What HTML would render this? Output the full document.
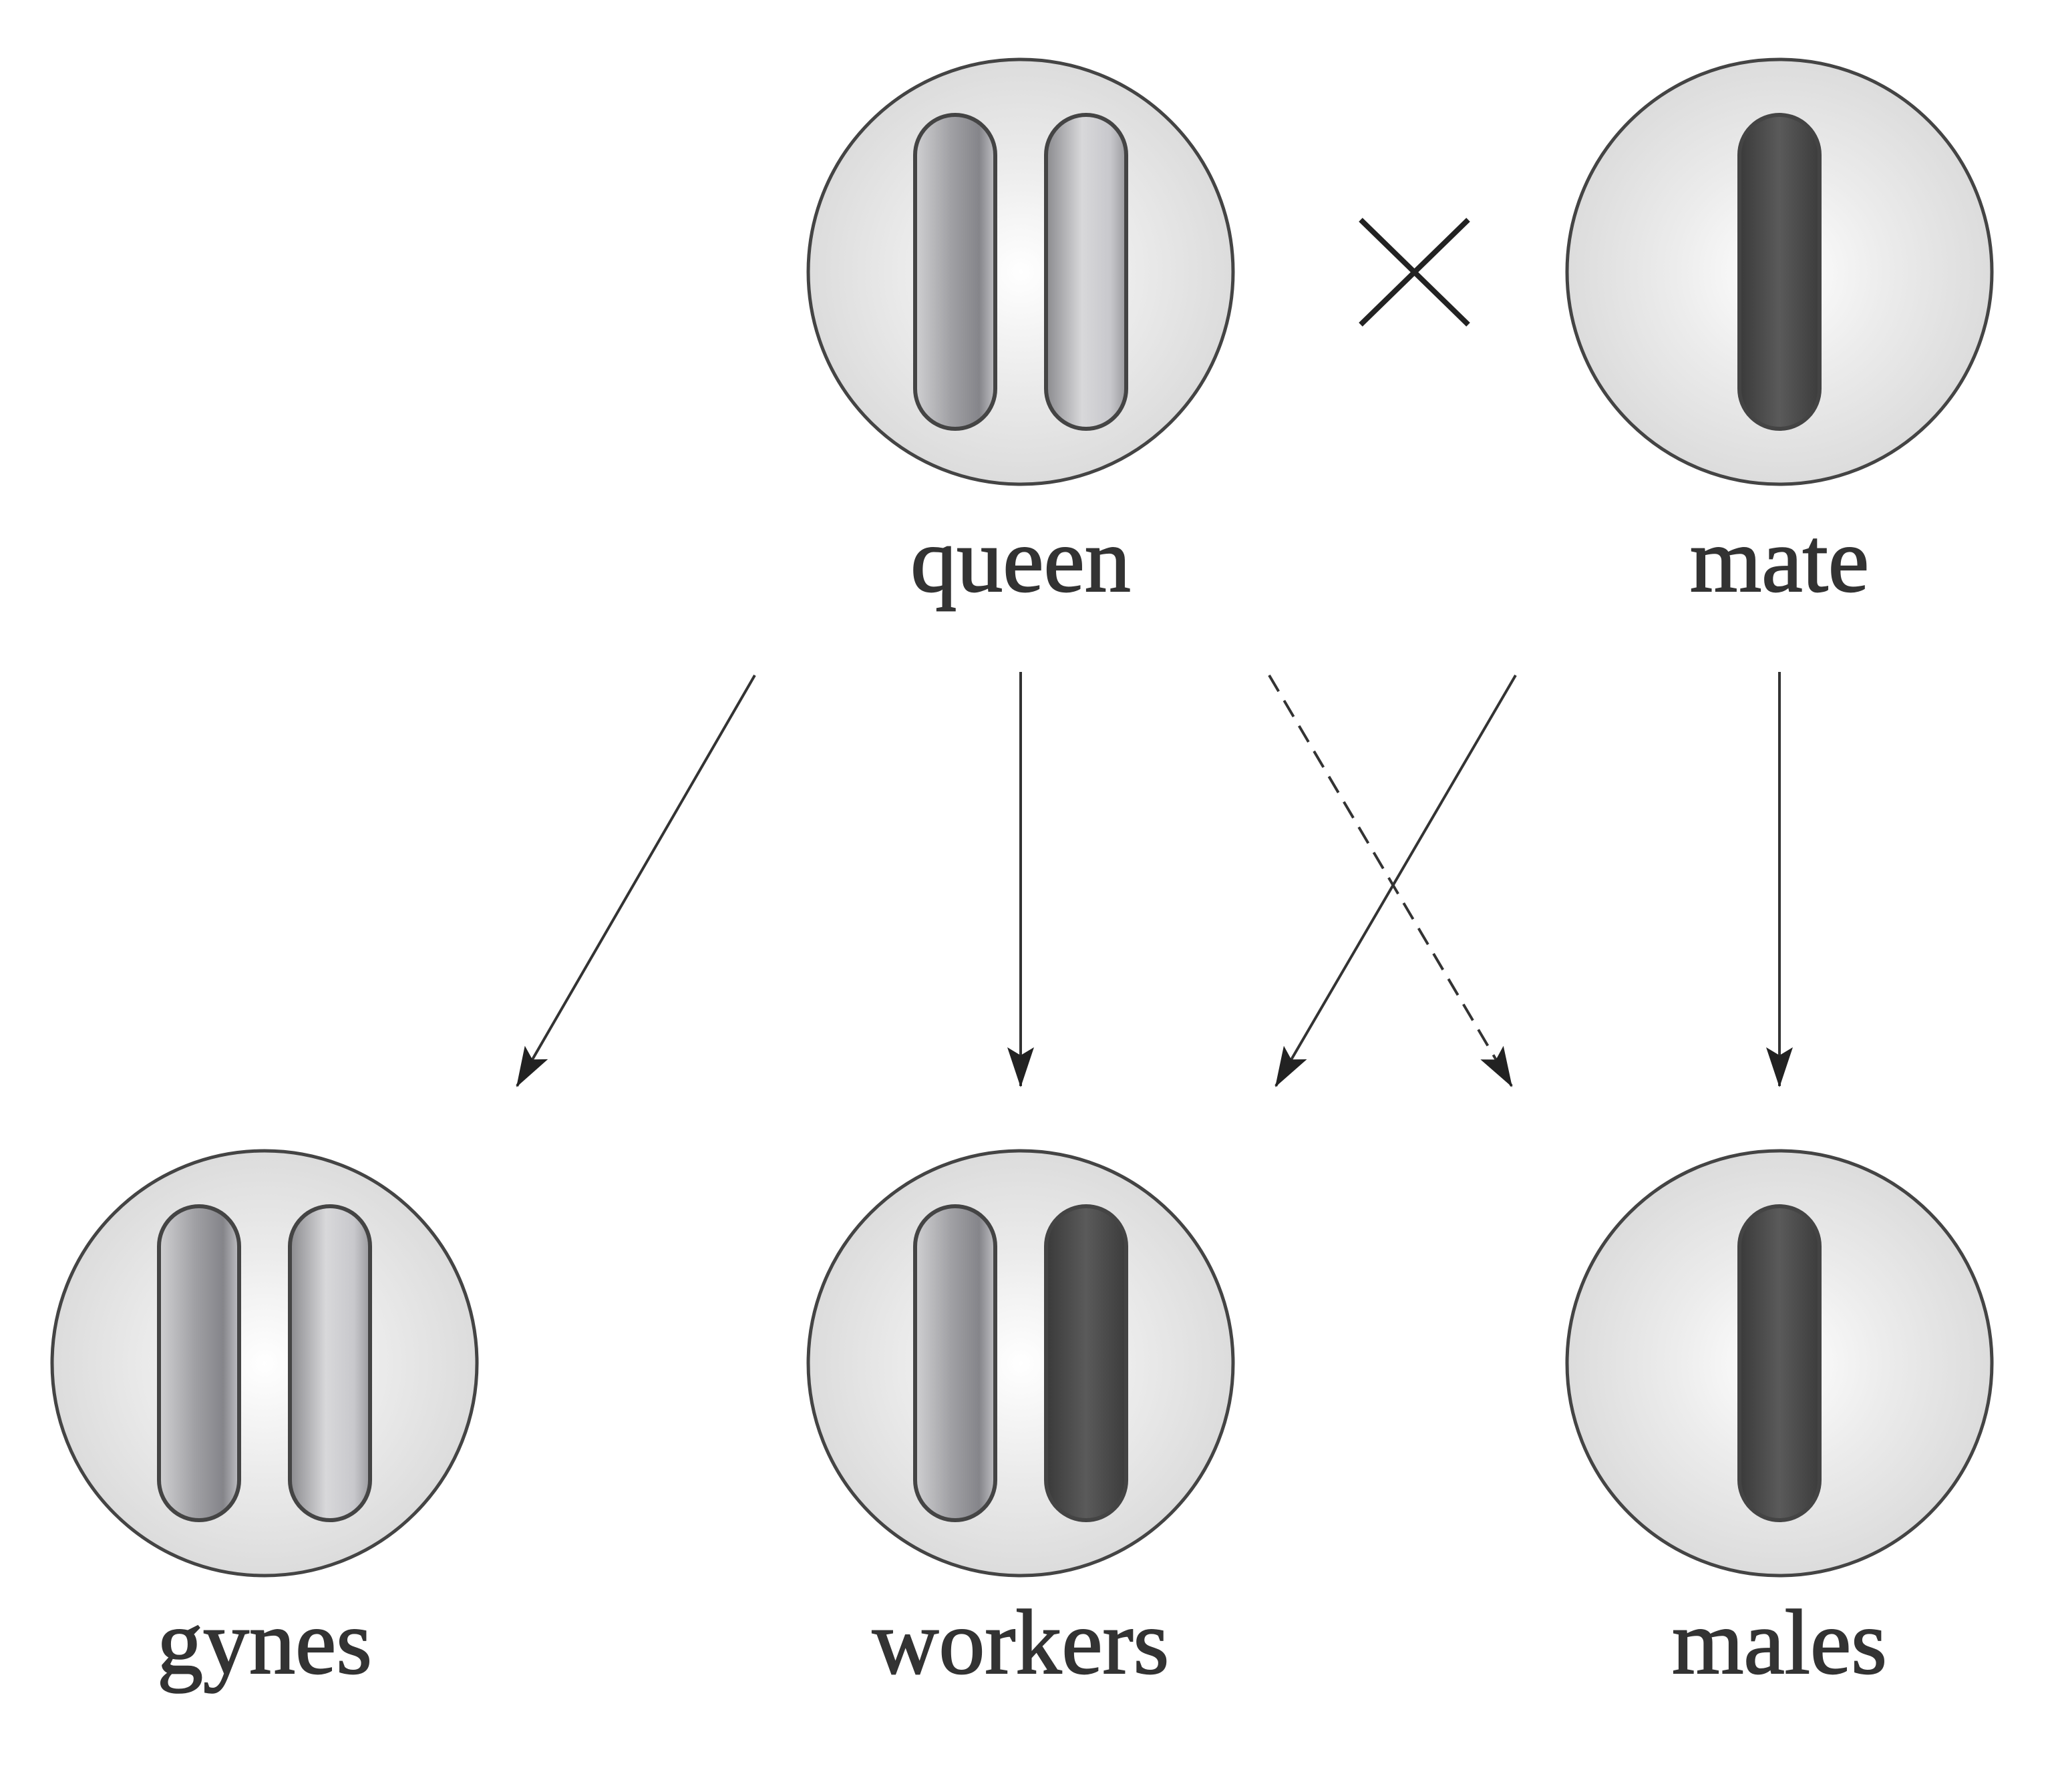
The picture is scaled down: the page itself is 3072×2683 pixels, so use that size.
<!DOCTYPE html>
<html><head><style>body{margin:0;background:#fff}svg{display:block}</style></head><body>
<svg width="3072" height="2683" viewBox="0 0 3072 2683" xmlns="http://www.w3.org/2000/svg">
<defs>
<radialGradient id="cg" cx="50%" cy="50%" r="50%"><stop offset="0" stop-color="#ffffff"/><stop offset="0.5" stop-color="#ececec"/><stop offset="1" stop-color="#dcdcdc"/></radialGradient>
<linearGradient id="l1" x1="0" x2="1" y1="0" y2="0"><stop offset="0" stop-color="#d0d0d2"/><stop offset="0.45" stop-color="#a0a0a4"/><stop offset="0.8" stop-color="#85858a"/><stop offset="1" stop-color="#c0c0c4"/></linearGradient>
<linearGradient id="l2" x1="0" x2="1" y1="0" y2="0"><stop offset="0" stop-color="#8a8a8e"/><stop offset="0.45" stop-color="#d8d8da"/><stop offset="0.8" stop-color="#c8c8cc"/><stop offset="1" stop-color="#9a9a9e"/></linearGradient>
<linearGradient id="dk" x1="0" x2="1" y1="0" y2="0"><stop offset="0" stop-color="#3a3a3a"/><stop offset="0.5" stop-color="#5a5a5a"/><stop offset="1" stop-color="#3c3c3c"/></linearGradient>
<marker id="a" viewBox="0 0 60 40" refX="58" refY="20" markerWidth="60" markerHeight="40" orient="auto" markerUnits="userSpaceOnUse"><path d="M0,0 L60,20 L0,40 L12,20 Z" fill="#222"/></marker>
</defs>
<g stroke="#444" stroke-width="5">
<circle cx="1528" cy="407" r="318" fill="url(#cg)"/>
<circle cx="2664" cy="407" r="318" fill="url(#cg)"/>
<circle cx="396" cy="2041" r="318" fill="url(#cg)"/>
<circle cx="1528" cy="2041" r="318" fill="url(#cg)"/>
<circle cx="2664" cy="2041" r="318" fill="url(#cg)"/>
</g>
<g stroke="#444" stroke-width="6">
<rect x="1370" y="172" width="120" height="470" rx="60" fill="url(#l1)"/>
<rect x="1566" y="172" width="120" height="470" rx="60" fill="url(#l2)"/>
<rect x="2604" y="172" width="120" height="470" rx="60" fill="url(#dk)"/>
<rect x="238" y="1806" width="120" height="470" rx="60" fill="url(#l1)"/>
<rect x="434" y="1806" width="120" height="470" rx="60" fill="url(#l2)"/>
<rect x="1370" y="1806" width="120" height="470" rx="60" fill="url(#l1)"/>
<rect x="1566" y="1806" width="120" height="470" rx="60" fill="url(#dk)"/>
<rect x="2604" y="1806" width="120" height="470" rx="60" fill="url(#dk)"/>
</g>
<g stroke="#222" stroke-width="8"><line x1="2037" y1="329" x2="2198" y2="486"/><line x1="2198" y1="329" x2="2037" y2="486"/></g>
<g stroke="#333" stroke-width="4" fill="none">
<line x1="1130" y1="1011" x2="774" y2="1626" marker-end="url(#a)"/>
<line x1="1528" y1="1006" x2="1528" y2="1626" marker-end="url(#a)"/>
<line x1="1900" y1="1011" x2="2263" y2="1626" stroke-dasharray="28,16" marker-end="url(#a)"/>
<line x1="2269" y1="1011" x2="1910" y2="1626" marker-end="url(#a)"/>
<line x1="2664" y1="1006" x2="2664" y2="1626" marker-end="url(#a)"/>
</g>
<g font-family="Liberation Serif, serif" font-size="138" fill="#333" stroke="#333" stroke-width="2" text-anchor="middle">
<text x="1528" y="885">queen</text>
<text x="2664" y="885">mate</text>
<text x="396" y="2505">gynes</text>
<text x="1528" y="2505">workers</text>
<text x="2664" y="2505">males</text>
</g>
</svg>
</body></html>
